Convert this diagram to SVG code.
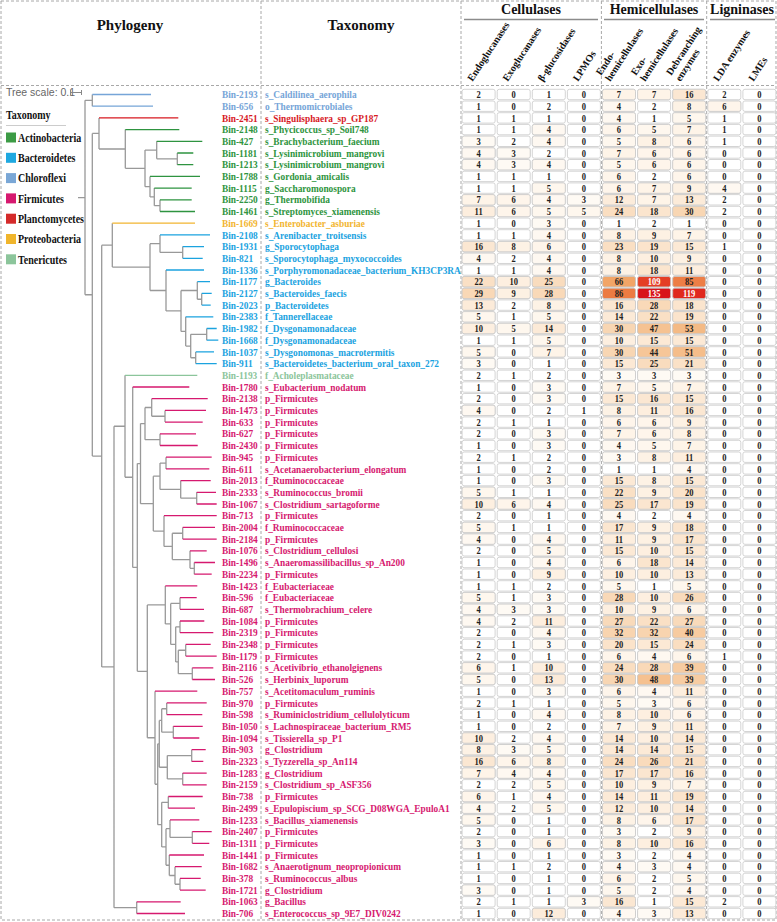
<svg xmlns="http://www.w3.org/2000/svg" xmlns:xlink="http://www.w3.org/1999/xlink" width="777" height="922" viewBox="0 0 777 922">
<style>
.lb{font-family:"Liberation Serif","Times New Roman",serif;font-weight:700;font-size:11px}
.n{font-family:"Liberation Serif","Times New Roman",serif;font-weight:700;font-size:10px;fill:#222;text-anchor:middle}
.n .w{fill:#fff}
.hd{font-family:"Liberation Serif","Times New Roman",serif;font-weight:700;font-size:15px;fill:#111;text-anchor:middle}
.hd2{font-family:"Liberation Serif","Times New Roman",serif;font-weight:700;font-size:14px;fill:#111;text-anchor:middle}
.ct{font-family:"Liberation Serif","Times New Roman",serif;font-weight:700;font-size:10px;fill:#111}
.lg{font-family:"Liberation Serif","Times New Roman",serif;font-weight:700;font-size:12.5px;fill:#111}
.chl{fill:#76a5d8}.pla{fill:#d7191f}.act{fill:#2e9440}.pro{fill:#f2b530}.bac{fill:#1ba3df}.ten{fill:#8cc59b}.fir{fill:#d6196f}
</style>
<defs>
<rect id="c" y="-8.8" width="33" height="10.4" rx="2" stroke="#c9c9c9" stroke-width=".8"/>
<g id="rw" fill="#fff"><use href="#c" x="462.1"/><use href="#c" x="497.2"/><use href="#c" x="532.3"/><use href="#c" x="567.4"/><use href="#c" x="602.5"/><use href="#c" x="637.6"/><use href="#c" x="672.7"/><use href="#c" x="707.8"/><use href="#c" x="742.9"/></g>
</defs>
<rect width="777" height="922" fill="#fff"/>
<g id="frame" fill="none" stroke="#a8a8a8" stroke-width="1" stroke-dasharray="3 2">
<rect x="1" y="1" width="775" height="919"/>
<path d="M1 85.5H776M261 1V920M461 1V920M601.4 1V920M706.7 1V920"/>
</g>
<g id="header">
<text class="hd" x="130" y="30">Phylogeny</text>
<text class="hd" x="361" y="30">Taxonomy</text>
<text class="hd2" x="531" y="14">Cellulases</text>
<text class="hd2" x="654" y="14">Hemicellulases</text>
<text class="hd2" x="742" y="14">Ligninases</text>
<path d="M464 19.5H598M604 19.5H704M710 19.5H775" stroke="#8c8c8c" stroke-width="1.5" fill="none"/>
<g class="ct">
<text transform="translate(472.6,82) rotate(-57)">Endoglucanases</text>
<text transform="translate(507.7,82) rotate(-57)">Exoglucanases</text>
<text transform="translate(542.8,82) rotate(-57)">β-glucosidases</text>
<text transform="translate(577.9,82) rotate(-57)">LPMOs</text>
<text transform="translate(601,76) rotate(-57)"><tspan x="0">Endo-</tspan><tspan x="0" dy="11">hemicellulases</tspan></text>
<text transform="translate(636.1,76) rotate(-57)"><tspan x="0">Exo-</tspan><tspan x="0" dy="11">hemicellulases</tspan></text>
<text transform="translate(671.2,76) rotate(-57)"><tspan x="0">Debranching</tspan><tspan x="0" dy="11">enzymes</tspan></text>
<text transform="translate(718.3,82) rotate(-57)">LDA enzymes</text>
<text transform="translate(753.4,82) rotate(-57)">LMEs</text>
</g>
</g>
<g id="legend">
<text x="6" y="96" font-family="Liberation Sans,Arial,sans-serif" font-size="10.5" fill="#666">Tree scale: 0.1</text>
<path d="M70 92.5H82M70.5 90V95M81.5 90V95" stroke="#888" stroke-width="1" fill="none"/>
<text class="lg" transform="translate(6,119) scale(.8 1)">Taxonomy</text>
<path d="M6 125.5H66" stroke="#ccc" stroke-width="1"/>
<rect x="6" y="132.5" width="10" height="10" fill="#3c9b45"/><text class="lg" transform="translate(18,141.8) scale(.8 1)">Actinobacteria</text>
<rect x="6" y="152.8" width="10" height="10" fill="#1fa8e0"/><text class="lg" transform="translate(18,162.1) scale(.8 1)">Bacteroidetes</text>
<rect x="6" y="173.1" width="10" height="10" fill="#7aa7d6"/><text class="lg" transform="translate(18,182.4) scale(.8 1)">Chloroflexi</text>
<rect x="6" y="193.4" width="10" height="10" fill="#d6196f"/><text class="lg" transform="translate(18,202.7) scale(.8 1)">Firmicutes</text>
<rect x="6" y="213.7" width="10" height="10" fill="#d42a2a"/><text class="lg" transform="translate(18,223) scale(.8 1)">Planctomycetes</text>
<rect x="6" y="234" width="10" height="10" fill="#f0b52c"/><text class="lg" transform="translate(18,243.3) scale(.8 1)">Proteobacteria</text>
<rect x="6" y="254.3" width="10" height="10" fill="#8cc59b"/><text class="lg" transform="translate(18,263.6) scale(.8 1)">Tenericutes</text>
</g>
<g id="connectors" fill="none" stroke-width="1.3">
<path stroke="#999" d="M78 197.55H85M85 100.35V294.75M85 100.35H92.3M92.3 94.5V106.2M85 294.75H92.3M92.3 133.44V456.05M92.3 133.44H99M99 117.9V148.98M99 148.98H125.3M125.3 129.6V168.36M125.3 168.36H145M145 150.08V186.64M145 150.08H156.7M156.7 141.3V158.85M156.7 158.85H177.3M177.3 153V164.7M145 186.64H150M150 176.4V196.88M150 196.88H154.3M154.3 188.1V205.65M154.3 205.65H160M160 199.8V211.5M92.3 456.05H101.7M101.7 245.14V666.96M101.7 245.14H112.3M112.3 223.2V267.08M112.3 267.08H150M150 243.68V290.48M150 243.68H160M160 234.9V252.45M160 252.45H182.7M182.7 246.6V258.3M150 290.48H166M166 270V310.95M166 310.95H181M181 290.48V331.43M181 290.48H197.3M197.3 281.7V299.25M197.3 299.25H201.7M201.7 293.4V305.1M181 331.43H185.7M185.7 316.8V346.05M185.7 346.05H190.7M190.7 334.35V357.75M190.7 334.35H206.7M206.7 328.5V340.2M190.7 357.75H195.7M195.7 351.9V363.6M101.7 666.96H114M114 426.27V907.65M114 426.27H125M125 375.3V477.23M125 477.23H132.7M132.7 387V567.46M132.7 567.46H137.3M137.3 463.6V671.32M137.3 463.6H140.5M140.5 423.56V503.64M140.5 423.56H145M145 407.48V439.65M145 407.48H151.7M151.7 398.7V416.25M151.7 416.25H165M165 410.4V422.1M145 439.65H160M160 433.8V445.5M140.5 503.64H153.3M153.3 476.21V531.06M153.3 476.21H160M160 463.05V489.38M160 463.05H166M166 457.2V468.9M160 489.38H180.7M180.7 480.6V498.15M180.7 498.15H196.7M196.7 492.3V504M153.3 531.06H164M164 515.7V546.41M164 546.41H172.3M172.3 533.25V559.58M172.3 533.25H182.7M182.7 527.4V539.1M172.3 559.58H190M190 550.8V568.35M190 568.35H194.3M194.3 562.5V574.2M137.3 671.32H147.3M147.3 604.91V737.73M147.3 604.91H165.3M165.3 585.9V623.93M165.3 623.93H170.7M170.7 603.45V644.4M170.7 603.45H180M180 597.6V609.3M170.7 644.4H175.7M175.7 626.85V661.95M175.7 626.85H180M180 621V632.7M175.7 661.95H178.3M178.3 650.25V673.65M178.3 650.25H185.7M185.7 644.4V656.1M178.3 673.65H192.3M192.3 667.8V679.5M147.3 737.73H155M155 691.2V784.26M155 784.26H157.7M157.7 743.85V824.66M157.7 743.85H159.3M159.3 720.45V767.25M159.3 720.45H161.7M161.7 708.75V732.15M161.7 708.75H166.7M166.7 702.9V714.6M161.7 732.15H173.3M173.3 726.3V738M159.3 767.25H167.3M167.3 755.55V778.95M167.3 755.55H191.7M191.7 749.7V761.4M167.3 778.95H182.7M182.7 773.1V784.8M157.7 824.66H161.7M161.7 802.35V846.96M161.7 802.35H168.3M168.3 796.5V808.2M161.7 846.96H166M166 828.68V865.24M166 828.68H170M170 819.9V837.45M170 837.45H192.3M192.3 831.6V843.3M166 865.24H169.3M169.3 855V875.48M169.3 875.48H175M175 866.7V884.25M175 884.25H180M180 878.4V890.1M114 907.65H136.7M136.7 901.8V913.5"/>
<path stroke="#76a5d8" d="M92.3 94.5H151M92.3 106.2H153"/>
<path stroke="#d7191f" d="M99 117.9H178.3"/>
<path stroke="#2e9440" d="M125.3 129.6H179.3M156.7 141.3H202.3M177.3 153H193.3M177.3 164.7H193.3M150 176.4H200M154.3 188.1H191.7M160 199.8H191.7M160 211.5H195"/>
<path stroke="#f2b530" d="M112.3 223.2H195"/>
<path stroke="#1ba3df" d="M160 234.9H210M182.7 246.6H204M182.7 258.3H202.7M166 270H204M197.3 281.7H210M201.7 293.4H211.7M201.7 305.1H210.7M185.7 316.8H213.3M206.7 328.5H216.7M206.7 340.2H218.3M195.7 351.9H214M195.7 363.6H216.7"/>
<path stroke="#8cc59b" d="M125 375.3H197.3"/>
<path stroke="#d6196f" d="M132.7 387H189.3M151.7 398.7H207.7M165 410.4H206M165 422.1H202.7M160 433.8H196M160 445.5H197.7M166 457.2H211.7M166 468.9H209.3M180.7 480.6H210.7M196.7 492.3H216M196.7 504H216.7M164 515.7H216.7M182.7 527.4H215M182.7 539.1H216.7M190 550.8H206.7M194.3 562.5H215M194.3 574.2H211.7M165.3 585.9H197.3M180 597.6H196.7M180 609.3H204M180 621H204.3M180 632.7H213.3M185.7 644.4H210.7M185.7 656.1H216.7M192.3 667.8H213.3M192.3 679.5H215M155 691.2H197.3M166.7 702.9H206.7M166.7 714.6H202.3M173.3 726.3H202.7M173.3 738H199.3M191.7 749.7H205.7M191.7 761.4H203.3M182.7 773.1H206.7M182.7 784.8H206.7M168.3 796.5H202.7M168.3 808.2H195M170 819.9H199.3M192.3 831.6H211.7M192.3 843.3H209.3M169.3 855H204M175 866.7H201.7M180 878.4H200.7M180 890.1H205.7M136.7 901.8H180.7M136.7 913.5H185"/>
</g>
<g id="rows">
<g id="bin-2193" transform="translate(0,98.1)"><use href="#rw"/><use href="#c" x="602.5" fill="#fef4e8"/><use href="#c" x="637.6" fill="#fef4e8"/><use href="#c" x="672.7" fill="#fbe7d2"/><g transform="scale(.85 1)"><g class="lb chl"><text x="261.2">Bin-2193</text><text x="311.8">s_Caldilinea_aerophila</text></g><g class="n"><text x="563.1">2</text><text x="604.4">0</text><text x="645.6">1</text><text x="686.9">0</text><text x="728.2">7</text><text x="769.5">7</text><text x="810.8">16</text><text x="852.1">2</text><text x="893.4">0</text></g></g></g>
<g id="bin-656" transform="translate(0,109.8)"><use href="#rw"/><use href="#c" x="602.5" fill="#fef8f1"/><use href="#c" x="672.7" fill="#fdf2e5"/><use href="#c" x="707.8" fill="#fef5eb"/><g transform="scale(.85 1)"><g class="lb chl"><text x="261.2">Bin-656</text><text x="311.8">o_Thermomicrobiales</text></g><g class="n"><text x="563.1">1</text><text x="604.4">0</text><text x="645.6">2</text><text x="686.9">0</text><text x="728.2">4</text><text x="769.5">2</text><text x="810.8">8</text><text x="852.1">6</text><text x="893.4">0</text></g></g></g>
<g id="bin-2451" transform="translate(0,121.5)"><use href="#rw"/><use href="#c" x="602.5" fill="#fef8f1"/><use href="#c" x="672.7" fill="#fef7ee"/><g transform="scale(.85 1)"><g class="lb pla"><text x="261.2">Bin-2451</text><text x="311.8">s_Singulisphaera_sp_GP187</text></g><g class="n"><text x="563.1">1</text><text x="604.4">1</text><text x="645.6">1</text><text x="686.9">0</text><text x="728.2">4</text><text x="769.5">1</text><text x="810.8">5</text><text x="852.1">1</text><text x="893.4">0</text></g></g></g>
<g id="bin-2148" transform="translate(0,133.2)"><use href="#rw"/><use href="#c" x="532.3" fill="#fef8f1"/><use href="#c" x="602.5" fill="#fef5eb"/><use href="#c" x="637.6" fill="#fef7ee"/><use href="#c" x="672.7" fill="#fef4e8"/><g transform="scale(.85 1)"><g class="lb act"><text x="261.2">Bin-2148</text><text x="311.8">s_Phycicoccus_sp_Soil748</text></g><g class="n"><text x="563.1">1</text><text x="604.4">1</text><text x="645.6">4</text><text x="686.9">0</text><text x="728.2">6</text><text x="769.5">5</text><text x="810.8">7</text><text x="852.1">1</text><text x="893.4">0</text></g></g></g>
<g id="bin-427" transform="translate(0,144.9)"><use href="#rw"/><use href="#c" x="462.1" fill="#fefaf4"/><use href="#c" x="532.3" fill="#fef8f1"/><use href="#c" x="602.5" fill="#fef7ee"/><use href="#c" x="637.6" fill="#fdf2e5"/><use href="#c" x="672.7" fill="#fef5eb"/><g transform="scale(.85 1)"><g class="lb act"><text x="261.2">Bin-427</text><text x="311.8">s_Brachybacterium_faecium</text></g><g class="n"><text x="563.1">3</text><text x="604.4">2</text><text x="645.6">4</text><text x="686.9">0</text><text x="728.2">5</text><text x="769.5">8</text><text x="810.8">6</text><text x="852.1">1</text><text x="893.4">0</text></g></g></g>
<g id="bin-1181" transform="translate(0,156.6)"><use href="#rw"/><use href="#c" x="462.1" fill="#fef8f1"/><use href="#c" x="497.2" fill="#fefaf4"/><use href="#c" x="602.5" fill="#fef4e8"/><use href="#c" x="637.6" fill="#fef5eb"/><use href="#c" x="672.7" fill="#fef5eb"/><g transform="scale(.85 1)"><g class="lb act"><text x="261.2">Bin-1181</text><text x="311.8">s_Lysinimicrobium_mangrovi</text></g><g class="n"><text x="563.1">4</text><text x="604.4">3</text><text x="645.6">2</text><text x="686.9">0</text><text x="728.2">7</text><text x="769.5">6</text><text x="810.8">6</text><text x="852.1">0</text><text x="893.4">0</text></g></g></g>
<g id="bin-1213" transform="translate(0,168.3)"><use href="#rw"/><use href="#c" x="462.1" fill="#fef8f1"/><use href="#c" x="497.2" fill="#fefaf4"/><use href="#c" x="532.3" fill="#fef8f1"/><use href="#c" x="602.5" fill="#fef7ee"/><use href="#c" x="637.6" fill="#fef5eb"/><use href="#c" x="672.7" fill="#fef5eb"/><g transform="scale(.85 1)"><g class="lb act"><text x="261.2">Bin-1213</text><text x="311.8">s_Lysinimicrobium_mangrovi</text></g><g class="n"><text x="563.1">4</text><text x="604.4">3</text><text x="645.6">4</text><text x="686.9">0</text><text x="728.2">5</text><text x="769.5">6</text><text x="810.8">6</text><text x="852.1">0</text><text x="893.4">0</text></g></g></g>
<g id="bin-1788" transform="translate(0,180)"><use href="#rw"/><use href="#c" x="602.5" fill="#fef5eb"/><use href="#c" x="672.7" fill="#fef5eb"/><g transform="scale(.85 1)"><g class="lb act"><text x="261.2">Bin-1788</text><text x="311.8">s_Gordonia_amicalis</text></g><g class="n"><text x="563.1">1</text><text x="604.4">1</text><text x="645.6">1</text><text x="686.9">0</text><text x="728.2">6</text><text x="769.5">2</text><text x="810.8">6</text><text x="852.1">0</text><text x="893.4">0</text></g></g></g>
<g id="bin-1115" transform="translate(0,191.7)"><use href="#rw"/><use href="#c" x="532.3" fill="#fef7ee"/><use href="#c" x="602.5" fill="#fef5eb"/><use href="#c" x="637.6" fill="#fef4e8"/><use href="#c" x="672.7" fill="#fdf1e3"/><use href="#c" x="707.8" fill="#fef8f1"/><g transform="scale(.85 1)"><g class="lb act"><text x="261.2">Bin-1115</text><text x="311.8">g_Saccharomonospora</text></g><g class="n"><text x="563.1">1</text><text x="604.4">1</text><text x="645.6">5</text><text x="686.9">0</text><text x="728.2">6</text><text x="769.5">7</text><text x="810.8">9</text><text x="852.1">4</text><text x="893.4">0</text></g></g></g>
<g id="bin-2250" transform="translate(0,203.4)"><use href="#rw"/><use href="#c" x="462.1" fill="#fef4e8"/><use href="#c" x="497.2" fill="#fef5eb"/><use href="#c" x="532.3" fill="#fef8f1"/><use href="#c" x="567.4" fill="#fefaf4"/><use href="#c" x="602.5" fill="#fcecdb"/><use href="#c" x="637.6" fill="#fef4e8"/><use href="#c" x="672.7" fill="#fcebd9"/><g transform="scale(.85 1)"><g class="lb act"><text x="261.2">Bin-2250</text><text x="311.8">g_Thermobifida</text></g><g class="n"><text x="563.1">7</text><text x="604.4">6</text><text x="645.6">4</text><text x="686.9">3</text><text x="728.2">12</text><text x="769.5">7</text><text x="810.8">13</text><text x="852.1">2</text><text x="893.4">0</text></g></g></g>
<g id="bin-1461" transform="translate(0,215.1)"><use href="#rw"/><use href="#c" x="462.1" fill="#fdeede"/><use href="#c" x="497.2" fill="#fef5eb"/><use href="#c" x="532.3" fill="#fef7ee"/><use href="#c" x="567.4" fill="#fef7ee"/><use href="#c" x="602.5" fill="#fadec1"/><use href="#c" x="637.6" fill="#fbe5ce"/><use href="#c" x="672.7" fill="#f8d6b3"/><g transform="scale(.85 1)"><g class="lb act"><text x="261.2">Bin-1461</text><text x="311.8">s_Streptomyces_xiamenensis</text></g><g class="n"><text x="563.1">11</text><text x="604.4">6</text><text x="645.6">5</text><text x="686.9">5</text><text x="728.2">24</text><text x="769.5">18</text><text x="810.8">30</text><text x="852.1">2</text><text x="893.4">0</text></g></g></g>
<g id="bin-1669" transform="translate(0,226.8)"><use href="#rw"/><use href="#c" x="532.3" fill="#fefaf4"/><g transform="scale(.85 1)"><g class="lb pro"><text x="261.2">Bin-1669</text><text x="311.8">s_Enterobacter_asburiae</text></g><g class="n"><text x="563.1">1</text><text x="604.4">0</text><text x="645.6">3</text><text x="686.9">0</text><text x="728.2">1</text><text x="769.5">2</text><text x="810.8">1</text><text x="852.1">0</text><text x="893.4">0</text></g></g></g>
<g id="bin-2108" transform="translate(0,238.5)"><use href="#rw"/><use href="#c" x="532.3" fill="#fef8f1"/><use href="#c" x="602.5" fill="#fdf2e5"/><use href="#c" x="637.6" fill="#fdf1e3"/><use href="#c" x="672.7" fill="#fef4e8"/><g transform="scale(.85 1)"><g class="lb bac"><text x="261.2">Bin-2108</text><text x="311.8">s_Arenibacter_troitsensis</text></g><g class="n"><text x="563.1">1</text><text x="604.4">1</text><text x="645.6">4</text><text x="686.9">0</text><text x="728.2">8</text><text x="769.5">9</text><text x="810.8">7</text><text x="852.1">0</text><text x="893.4">0</text></g></g></g>
<g id="bin-1931" transform="translate(0,250.2)"><use href="#rw"/><use href="#c" x="462.1" fill="#fbe7d2"/><use href="#c" x="497.2" fill="#fdf2e5"/><use href="#c" x="532.3" fill="#fef5eb"/><use href="#c" x="602.5" fill="#fadfc3"/><use href="#c" x="637.6" fill="#fbe4cc"/><use href="#c" x="672.7" fill="#fce9d5"/><g transform="scale(.85 1)"><g class="lb bac"><text x="261.2">Bin-1931</text><text x="311.8">g_Sporocytophaga</text></g><g class="n"><text x="563.1">16</text><text x="604.4">8</text><text x="645.6">6</text><text x="686.9">0</text><text x="728.2">23</text><text x="769.5">19</text><text x="810.8">15</text><text x="852.1">1</text><text x="893.4">0</text></g></g></g>
<g id="bin-821" transform="translate(0,261.9)"><use href="#rw"/><use href="#c" x="462.1" fill="#fef8f1"/><use href="#c" x="532.3" fill="#fef8f1"/><use href="#c" x="602.5" fill="#fdf2e5"/><use href="#c" x="637.6" fill="#fdefe0"/><use href="#c" x="672.7" fill="#fdf1e3"/><g transform="scale(.85 1)"><g class="lb bac"><text x="261.2">Bin-821</text><text x="311.8">s_Sporocytophaga_myxococcoides</text></g><g class="n"><text x="563.1">4</text><text x="604.4">2</text><text x="645.6">4</text><text x="686.9">0</text><text x="728.2">8</text><text x="769.5">10</text><text x="810.8">9</text><text x="852.1">0</text><text x="893.4">0</text></g></g></g>
<g id="bin-1336" transform="translate(0,273.6)"><use href="#rw"/><use href="#c" x="532.3" fill="#fef8f1"/><use href="#c" x="602.5" fill="#fdf2e5"/><use href="#c" x="637.6" fill="#fbe5ce"/><use href="#c" x="672.7" fill="#fdeede"/><g transform="scale(.85 1)"><g class="lb bac"><text x="261.2">Bin-1336</text><text x="311.8">s_Porphyromonadaceae_bacterium_KH3CP3RA</text></g><g class="n"><text x="563.1">1</text><text x="604.4">1</text><text x="645.6">4</text><text x="686.9">0</text><text x="728.2">8</text><text x="769.5">18</text><text x="810.8">11</text><text x="852.1">0</text><text x="893.4">0</text></g></g></g>
<g id="bin-1177" transform="translate(0,285.3)"><use href="#rw"/><use href="#c" x="462.1" fill="#fae0c5"/><use href="#c" x="497.2" fill="#fdefe0"/><use href="#c" x="532.3" fill="#f9dcbe"/><use href="#c" x="602.5" fill="#f2a567"/><use href="#c" x="637.6" fill="#e43e26"/><use href="#c" x="672.7" fill="#ed7e46"/><g transform="scale(.85 1)"><g class="lb bac"><text x="261.2">Bin-1177</text><text x="311.8">g_Bacteroides</text></g><g class="n"><text x="563.1">22</text><text x="604.4">10</text><text x="645.6">25</text><text x="686.9">0</text><text x="728.2">66</text><text x="769.5" class="w">109</text><text x="810.8">85</text><text x="852.1">0</text><text x="893.4">0</text></g></g></g>
<g id="bin-2127" transform="translate(0,297)"><use href="#rw"/><use href="#c" x="462.1" fill="#f9d8b6"/><use href="#c" x="497.2" fill="#fdf1e3"/><use href="#c" x="532.3" fill="#f9d9b8"/><use href="#c" x="602.5" fill="#ec7b43"/><use href="#c" x="637.6" fill="#d8121a"/><use href="#c" x="672.7" fill="#e0291e"/><g transform="scale(.85 1)"><g class="lb bac"><text x="261.2">Bin-2127</text><text x="311.8">s_Bacteroides_faecis</text></g><g class="n"><text x="563.1">29</text><text x="604.4">9</text><text x="645.6">28</text><text x="686.9">0</text><text x="728.2">86</text><text x="769.5" class="w">135</text><text x="810.8" class="w">119</text><text x="852.1">0</text><text x="893.4">0</text></g></g></g>
<g id="bin-2023" transform="translate(0,308.7)"><use href="#rw"/><use href="#c" x="462.1" fill="#fcebd9"/><use href="#c" x="532.3" fill="#fdf2e5"/><use href="#c" x="602.5" fill="#fbe7d2"/><use href="#c" x="637.6" fill="#f9d9b8"/><use href="#c" x="672.7" fill="#fbe5ce"/><g transform="scale(.85 1)"><g class="lb bac"><text x="261.2">Bin-2023</text><text x="311.8">p_Bacteroidetes</text></g><g class="n"><text x="563.1">13</text><text x="604.4">2</text><text x="645.6">8</text><text x="686.9">0</text><text x="728.2">16</text><text x="769.5">28</text><text x="810.8">18</text><text x="852.1">0</text><text x="893.4">0</text></g></g></g>
<g id="bin-2383" transform="translate(0,320.4)"><use href="#rw"/><use href="#c" x="462.1" fill="#fef7ee"/><use href="#c" x="532.3" fill="#fef7ee"/><use href="#c" x="602.5" fill="#fcead7"/><use href="#c" x="637.6" fill="#fae0c5"/><use href="#c" x="672.7" fill="#fbe4cc"/><g transform="scale(.85 1)"><g class="lb bac"><text x="261.2">Bin-2383</text><text x="311.8">f_Tannerellaceae</text></g><g class="n"><text x="563.1">5</text><text x="604.4">1</text><text x="645.6">5</text><text x="686.9">0</text><text x="728.2">14</text><text x="769.5">22</text><text x="810.8">19</text><text x="852.1">0</text><text x="893.4">0</text></g></g></g>
<g id="bin-1982" transform="translate(0,332.1)"><use href="#rw"/><use href="#c" x="462.1" fill="#fdefe0"/><use href="#c" x="497.2" fill="#fef7ee"/><use href="#c" x="532.3" fill="#fcead7"/><use href="#c" x="602.5" fill="#f8d6b3"/><use href="#c" x="637.6" fill="#f5c292"/><use href="#c" x="672.7" fill="#f4ba85"/><g transform="scale(.85 1)"><g class="lb bac"><text x="261.2">Bin-1982</text><text x="311.8">f_Dysgonamonadaceae</text></g><g class="n"><text x="563.1">10</text><text x="604.4">5</text><text x="645.6">14</text><text x="686.9">0</text><text x="728.2">30</text><text x="769.5">47</text><text x="810.8">53</text><text x="852.1">0</text><text x="893.4">0</text></g></g></g>
<g id="bin-1668" transform="translate(0,343.8)"><use href="#rw"/><use href="#c" x="532.3" fill="#fef7ee"/><use href="#c" x="602.5" fill="#fdefe0"/><use href="#c" x="637.6" fill="#fce9d5"/><use href="#c" x="672.7" fill="#fce9d5"/><g transform="scale(.85 1)"><g class="lb bac"><text x="261.2">Bin-1668</text><text x="311.8">f_Dysgonamonadaceae</text></g><g class="n"><text x="563.1">1</text><text x="604.4">1</text><text x="645.6">5</text><text x="686.9">0</text><text x="728.2">10</text><text x="769.5">15</text><text x="810.8">15</text><text x="852.1">0</text><text x="893.4">0</text></g></g></g>
<g id="bin-1037" transform="translate(0,355.5)"><use href="#rw"/><use href="#c" x="462.1" fill="#fef7ee"/><use href="#c" x="532.3" fill="#fef4e8"/><use href="#c" x="602.5" fill="#f8d6b3"/><use href="#c" x="637.6" fill="#f6c698"/><use href="#c" x="672.7" fill="#f5bd8a"/><g transform="scale(.85 1)"><g class="lb bac"><text x="261.2">Bin-1037</text><text x="311.8">s_Dysgonomonas_macrotermitis</text></g><g class="n"><text x="563.1">5</text><text x="604.4">0</text><text x="645.6">7</text><text x="686.9">0</text><text x="728.2">30</text><text x="769.5">44</text><text x="810.8">51</text><text x="852.1">0</text><text x="893.4">0</text></g></g></g>
<g id="bin-911" transform="translate(0,367.2)"><use href="#rw"/><use href="#c" x="462.1" fill="#fefaf4"/><use href="#c" x="602.5" fill="#fce9d5"/><use href="#c" x="637.6" fill="#f9dcbe"/><use href="#c" x="672.7" fill="#fae1c7"/><g transform="scale(.85 1)"><g class="lb bac"><text x="261.2">Bin-911</text><text x="311.8">s_Bacteroidetes_bacterium_oral_taxon_272</text></g><g class="n"><text x="563.1">3</text><text x="604.4">0</text><text x="645.6">1</text><text x="686.9">0</text><text x="728.2">15</text><text x="769.5">25</text><text x="810.8">21</text><text x="852.1">0</text><text x="893.4">0</text></g></g></g>
<g id="bin-1193" transform="translate(0,378.9)"><use href="#rw"/><use href="#c" x="602.5" fill="#fefaf4"/><use href="#c" x="637.6" fill="#fefaf4"/><use href="#c" x="672.7" fill="#fefaf4"/><g transform="scale(.85 1)"><g class="lb ten"><text x="261.2">Bin-1193</text><text x="311.8">f_Acholeplasmataceae</text></g><g class="n"><text x="563.1">2</text><text x="604.4">1</text><text x="645.6">2</text><text x="686.9">0</text><text x="728.2">3</text><text x="769.5">3</text><text x="810.8">3</text><text x="852.1">0</text><text x="893.4">0</text></g></g></g>
<g id="bin-1780" transform="translate(0,390.6)"><use href="#rw"/><use href="#c" x="532.3" fill="#fefaf4"/><use href="#c" x="602.5" fill="#fef4e8"/><use href="#c" x="637.6" fill="#fef7ee"/><use href="#c" x="672.7" fill="#fef4e8"/><g transform="scale(.85 1)"><g class="lb fir"><text x="261.2">Bin-1780</text><text x="311.8">s_Eubacterium_nodatum</text></g><g class="n"><text x="563.1">1</text><text x="604.4">0</text><text x="645.6">3</text><text x="686.9">0</text><text x="728.2">7</text><text x="769.5">5</text><text x="810.8">7</text><text x="852.1">0</text><text x="893.4">0</text></g></g></g>
<g id="bin-2138" transform="translate(0,402.3)"><use href="#rw"/><use href="#c" x="532.3" fill="#fefaf4"/><use href="#c" x="602.5" fill="#fce9d5"/><use href="#c" x="637.6" fill="#fbe7d2"/><use href="#c" x="672.7" fill="#fce9d5"/><g transform="scale(.85 1)"><g class="lb fir"><text x="261.2">Bin-2138</text><text x="311.8">p_Firmicutes</text></g><g class="n"><text x="563.1">2</text><text x="604.4">0</text><text x="645.6">3</text><text x="686.9">0</text><text x="728.2">15</text><text x="769.5">16</text><text x="810.8">15</text><text x="852.1">0</text><text x="893.4">0</text></g></g></g>
<g id="bin-1473" transform="translate(0,414)"><use href="#rw"/><use href="#c" x="462.1" fill="#fef8f1"/><use href="#c" x="602.5" fill="#fdf2e5"/><use href="#c" x="637.6" fill="#fdeede"/><use href="#c" x="672.7" fill="#fbe7d2"/><g transform="scale(.85 1)"><g class="lb fir"><text x="261.2">Bin-1473</text><text x="311.8">p_Firmicutes</text></g><g class="n"><text x="563.1">4</text><text x="604.4">0</text><text x="645.6">2</text><text x="686.9">1</text><text x="728.2">8</text><text x="769.5">11</text><text x="810.8">16</text><text x="852.1">0</text><text x="893.4">0</text></g></g></g>
<g id="bin-633" transform="translate(0,425.7)"><use href="#rw"/><use href="#c" x="602.5" fill="#fef5eb"/><use href="#c" x="637.6" fill="#fef5eb"/><use href="#c" x="672.7" fill="#fdf1e3"/><g transform="scale(.85 1)"><g class="lb fir"><text x="261.2">Bin-633</text><text x="311.8">p_Firmicutes</text></g><g class="n"><text x="563.1">2</text><text x="604.4">1</text><text x="645.6">1</text><text x="686.9">0</text><text x="728.2">6</text><text x="769.5">6</text><text x="810.8">9</text><text x="852.1">0</text><text x="893.4">0</text></g></g></g>
<g id="bin-627" transform="translate(0,437.4)"><use href="#rw"/><use href="#c" x="532.3" fill="#fefaf4"/><use href="#c" x="602.5" fill="#fef4e8"/><use href="#c" x="637.6" fill="#fef5eb"/><use href="#c" x="672.7" fill="#fdf2e5"/><g transform="scale(.85 1)"><g class="lb fir"><text x="261.2">Bin-627</text><text x="311.8">p_Firmicutes</text></g><g class="n"><text x="563.1">2</text><text x="604.4">0</text><text x="645.6">3</text><text x="686.9">0</text><text x="728.2">7</text><text x="769.5">6</text><text x="810.8">8</text><text x="852.1">0</text><text x="893.4">0</text></g></g></g>
<g id="bin-2430" transform="translate(0,449.1)"><use href="#rw"/><use href="#c" x="532.3" fill="#fefaf4"/><use href="#c" x="602.5" fill="#fef8f1"/><use href="#c" x="637.6" fill="#fef7ee"/><use href="#c" x="672.7" fill="#fef4e8"/><g transform="scale(.85 1)"><g class="lb fir"><text x="261.2">Bin-2430</text><text x="311.8">p_Firmicutes</text></g><g class="n"><text x="563.1">1</text><text x="604.4">0</text><text x="645.6">3</text><text x="686.9">0</text><text x="728.2">4</text><text x="769.5">5</text><text x="810.8">7</text><text x="852.1">0</text><text x="893.4">0</text></g></g></g>
<g id="bin-945" transform="translate(0,460.8)"><use href="#rw"/><use href="#c" x="602.5" fill="#fefaf4"/><use href="#c" x="637.6" fill="#fdf2e5"/><use href="#c" x="672.7" fill="#fdeede"/><g transform="scale(.85 1)"><g class="lb fir"><text x="261.2">Bin-945</text><text x="311.8">p_Firmicutes</text></g><g class="n"><text x="563.1">2</text><text x="604.4">1</text><text x="645.6">2</text><text x="686.9">0</text><text x="728.2">3</text><text x="769.5">8</text><text x="810.8">11</text><text x="852.1">0</text><text x="893.4">0</text></g></g></g>
<g id="bin-611" transform="translate(0,472.5)"><use href="#rw"/><use href="#c" x="672.7" fill="#fef8f1"/><g transform="scale(.85 1)"><g class="lb fir"><text x="261.2">Bin-611</text><text x="311.8">s_Acetanaerobacterium_elongatum</text></g><g class="n"><text x="563.1">1</text><text x="604.4">0</text><text x="645.6">2</text><text x="686.9">0</text><text x="728.2">1</text><text x="769.5">1</text><text x="810.8">4</text><text x="852.1">0</text><text x="893.4">0</text></g></g></g>
<g id="bin-2013" transform="translate(0,484.2)"><use href="#rw"/><use href="#c" x="532.3" fill="#fefaf4"/><use href="#c" x="602.5" fill="#fce9d5"/><use href="#c" x="637.6" fill="#fdf2e5"/><use href="#c" x="672.7" fill="#fce9d5"/><g transform="scale(.85 1)"><g class="lb fir"><text x="261.2">Bin-2013</text><text x="311.8">f_Ruminococcaceae</text></g><g class="n"><text x="563.1">1</text><text x="604.4">0</text><text x="645.6">3</text><text x="686.9">0</text><text x="728.2">15</text><text x="769.5">8</text><text x="810.8">15</text><text x="852.1">0</text><text x="893.4">0</text></g></g></g>
<g id="bin-2333" transform="translate(0,495.9)"><use href="#rw"/><use href="#c" x="462.1" fill="#fef7ee"/><use href="#c" x="602.5" fill="#fae0c5"/><use href="#c" x="637.6" fill="#fdf1e3"/><use href="#c" x="672.7" fill="#fbe3ca"/><g transform="scale(.85 1)"><g class="lb fir"><text x="261.2">Bin-2333</text><text x="311.8">s_Ruminococcus_bromii</text></g><g class="n"><text x="563.1">5</text><text x="604.4">1</text><text x="645.6">1</text><text x="686.9">0</text><text x="728.2">22</text><text x="769.5">9</text><text x="810.8">20</text><text x="852.1">0</text><text x="893.4">0</text></g></g></g>
<g id="bin-1067" transform="translate(0,507.6)"><use href="#rw"/><use href="#c" x="462.1" fill="#fdefe0"/><use href="#c" x="497.2" fill="#fef5eb"/><use href="#c" x="532.3" fill="#fef8f1"/><use href="#c" x="602.5" fill="#f9dcbe"/><use href="#c" x="637.6" fill="#fbe6d0"/><use href="#c" x="672.7" fill="#fbe4cc"/><g transform="scale(.85 1)"><g class="lb fir"><text x="261.2">Bin-1067</text><text x="311.8">s_Clostridium_sartagoforme</text></g><g class="n"><text x="563.1">10</text><text x="604.4">6</text><text x="645.6">4</text><text x="686.9">0</text><text x="728.2">25</text><text x="769.5">17</text><text x="810.8">19</text><text x="852.1">0</text><text x="893.4">0</text></g></g></g>
<g id="bin-713" transform="translate(0,519.3)"><use href="#rw"/><use href="#c" x="602.5" fill="#fef8f1"/><use href="#c" x="672.7" fill="#fef8f1"/><g transform="scale(.85 1)"><g class="lb fir"><text x="261.2">Bin-713</text><text x="311.8">p_Firmicutes</text></g><g class="n"><text x="563.1">2</text><text x="604.4">0</text><text x="645.6">1</text><text x="686.9">0</text><text x="728.2">4</text><text x="769.5">2</text><text x="810.8">4</text><text x="852.1">0</text><text x="893.4">0</text></g></g></g>
<g id="bin-2004" transform="translate(0,531)"><use href="#rw"/><use href="#c" x="462.1" fill="#fef7ee"/><use href="#c" x="602.5" fill="#fbe6d0"/><use href="#c" x="637.6" fill="#fdf1e3"/><use href="#c" x="672.7" fill="#fbe5ce"/><g transform="scale(.85 1)"><g class="lb fir"><text x="261.2">Bin-2004</text><text x="311.8">f_Ruminococcaceae</text></g><g class="n"><text x="563.1">5</text><text x="604.4">1</text><text x="645.6">1</text><text x="686.9">0</text><text x="728.2">17</text><text x="769.5">9</text><text x="810.8">18</text><text x="852.1">0</text><text x="893.4">0</text></g></g></g>
<g id="bin-2184" transform="translate(0,542.7)"><use href="#rw"/><use href="#c" x="462.1" fill="#fef8f1"/><use href="#c" x="532.3" fill="#fef8f1"/><use href="#c" x="602.5" fill="#fdeede"/><use href="#c" x="637.6" fill="#fdf1e3"/><use href="#c" x="672.7" fill="#fbe6d0"/><g transform="scale(.85 1)"><g class="lb fir"><text x="261.2">Bin-2184</text><text x="311.8">p_Firmicutes</text></g><g class="n"><text x="563.1">4</text><text x="604.4">0</text><text x="645.6">4</text><text x="686.9">0</text><text x="728.2">11</text><text x="769.5">9</text><text x="810.8">17</text><text x="852.1">0</text><text x="893.4">0</text></g></g></g>
<g id="bin-1076" transform="translate(0,554.4)"><use href="#rw"/><use href="#c" x="532.3" fill="#fef7ee"/><use href="#c" x="602.5" fill="#fce9d5"/><use href="#c" x="637.6" fill="#fdefe0"/><use href="#c" x="672.7" fill="#fce9d5"/><g transform="scale(.85 1)"><g class="lb fir"><text x="261.2">Bin-1076</text><text x="311.8">s_Clostridium_cellulosi</text></g><g class="n"><text x="563.1">2</text><text x="604.4">0</text><text x="645.6">5</text><text x="686.9">0</text><text x="728.2">15</text><text x="769.5">10</text><text x="810.8">15</text><text x="852.1">0</text><text x="893.4">0</text></g></g></g>
<g id="bin-1496" transform="translate(0,566.1)"><use href="#rw"/><use href="#c" x="532.3" fill="#fef8f1"/><use href="#c" x="602.5" fill="#fef5eb"/><use href="#c" x="637.6" fill="#fbe5ce"/><use href="#c" x="672.7" fill="#fcead7"/><g transform="scale(.85 1)"><g class="lb fir"><text x="261.2">Bin-1496</text><text x="311.8">s_Anaeromassilibacillus_sp_An200</text></g><g class="n"><text x="563.1">1</text><text x="604.4">0</text><text x="645.6">4</text><text x="686.9">0</text><text x="728.2">6</text><text x="769.5">18</text><text x="810.8">14</text><text x="852.1">0</text><text x="893.4">0</text></g></g></g>
<g id="bin-2234" transform="translate(0,577.8)"><use href="#rw"/><use href="#c" x="532.3" fill="#fdf1e3"/><use href="#c" x="602.5" fill="#fdefe0"/><use href="#c" x="637.6" fill="#fdefe0"/><use href="#c" x="672.7" fill="#fcebd9"/><g transform="scale(.85 1)"><g class="lb fir"><text x="261.2">Bin-2234</text><text x="311.8">p_Firmicutes</text></g><g class="n"><text x="563.1">1</text><text x="604.4">0</text><text x="645.6">9</text><text x="686.9">0</text><text x="728.2">10</text><text x="769.5">10</text><text x="810.8">13</text><text x="852.1">0</text><text x="893.4">0</text></g></g></g>
<g id="bin-1423" transform="translate(0,589.5)"><use href="#rw"/><use href="#c" x="602.5" fill="#fef7ee"/><use href="#c" x="672.7" fill="#fef7ee"/><g transform="scale(.85 1)"><g class="lb fir"><text x="261.2">Bin-1423</text><text x="311.8">f_Eubacteriaceae</text></g><g class="n"><text x="563.1">1</text><text x="604.4">1</text><text x="645.6">2</text><text x="686.9">0</text><text x="728.2">5</text><text x="769.5">1</text><text x="810.8">5</text><text x="852.1">0</text><text x="893.4">0</text></g></g></g>
<g id="bin-596" transform="translate(0,601.2)"><use href="#rw"/><use href="#c" x="462.1" fill="#fef7ee"/><use href="#c" x="532.3" fill="#fefaf4"/><use href="#c" x="602.5" fill="#f9d9b8"/><use href="#c" x="637.6" fill="#fdefe0"/><use href="#c" x="672.7" fill="#f9dbbc"/><g transform="scale(.85 1)"><g class="lb fir"><text x="261.2">Bin-596</text><text x="311.8">f_Eubacteriaceae</text></g><g class="n"><text x="563.1">5</text><text x="604.4">1</text><text x="645.6">3</text><text x="686.9">0</text><text x="728.2">28</text><text x="769.5">10</text><text x="810.8">26</text><text x="852.1">0</text><text x="893.4">0</text></g></g></g>
<g id="bin-687" transform="translate(0,612.9)"><use href="#rw"/><use href="#c" x="462.1" fill="#fef8f1"/><use href="#c" x="497.2" fill="#fefaf4"/><use href="#c" x="532.3" fill="#fefaf4"/><use href="#c" x="602.5" fill="#fdefe0"/><use href="#c" x="637.6" fill="#fdf1e3"/><use href="#c" x="672.7" fill="#fef5eb"/><g transform="scale(.85 1)"><g class="lb fir"><text x="261.2">Bin-687</text><text x="311.8">s_Thermobrachium_celere</text></g><g class="n"><text x="563.1">4</text><text x="604.4">3</text><text x="645.6">3</text><text x="686.9">0</text><text x="728.2">10</text><text x="769.5">9</text><text x="810.8">6</text><text x="852.1">0</text><text x="893.4">0</text></g></g></g>
<g id="bin-1084" transform="translate(0,624.6)"><use href="#rw"/><use href="#c" x="462.1" fill="#fef8f1"/><use href="#c" x="532.3" fill="#fdeede"/><use href="#c" x="602.5" fill="#f9daba"/><use href="#c" x="637.6" fill="#fae0c5"/><use href="#c" x="672.7" fill="#f9daba"/><g transform="scale(.85 1)"><g class="lb fir"><text x="261.2">Bin-1084</text><text x="311.8">p_Firmicutes</text></g><g class="n"><text x="563.1">4</text><text x="604.4">2</text><text x="645.6">11</text><text x="686.9">0</text><text x="728.2">27</text><text x="769.5">22</text><text x="810.8">27</text><text x="852.1">0</text><text x="893.4">0</text></g></g></g>
<g id="bin-2319" transform="translate(0,636.3)"><use href="#rw"/><use href="#c" x="532.3" fill="#fef8f1"/><use href="#c" x="602.5" fill="#f8d4af"/><use href="#c" x="637.6" fill="#f8d4af"/><use href="#c" x="672.7" fill="#f7cba0"/><g transform="scale(.85 1)"><g class="lb fir"><text x="261.2">Bin-2319</text><text x="311.8">p_Firmicutes</text></g><g class="n"><text x="563.1">2</text><text x="604.4">0</text><text x="645.6">4</text><text x="686.9">0</text><text x="728.2">32</text><text x="769.5">32</text><text x="810.8">40</text><text x="852.1">0</text><text x="893.4">0</text></g></g></g>
<g id="bin-2348" transform="translate(0,648)"><use href="#rw"/><use href="#c" x="532.3" fill="#fefaf4"/><use href="#c" x="602.5" fill="#fbe3ca"/><use href="#c" x="637.6" fill="#fce9d5"/><use href="#c" x="672.7" fill="#fadec1"/><g transform="scale(.85 1)"><g class="lb fir"><text x="261.2">Bin-2348</text><text x="311.8">p_Firmicutes</text></g><g class="n"><text x="563.1">2</text><text x="604.4">1</text><text x="645.6">3</text><text x="686.9">0</text><text x="728.2">20</text><text x="769.5">15</text><text x="810.8">24</text><text x="852.1">0</text><text x="893.4">0</text></g></g></g>
<g id="bin-1179" transform="translate(0,659.7)"><use href="#rw"/><use href="#c" x="602.5" fill="#fef5eb"/><use href="#c" x="637.6" fill="#fef8f1"/><use href="#c" x="672.7" fill="#fef5eb"/><g transform="scale(.85 1)"><g class="lb fir"><text x="261.2">Bin-1179</text><text x="311.8">p_Firmicutes</text></g><g class="n"><text x="563.1">2</text><text x="604.4">0</text><text x="645.6">1</text><text x="686.9">0</text><text x="728.2">6</text><text x="769.5">4</text><text x="810.8">6</text><text x="852.1">1</text><text x="893.4">0</text></g></g></g>
<g id="bin-2116" transform="translate(0,671.4)"><use href="#rw"/><use href="#c" x="462.1" fill="#fef5eb"/><use href="#c" x="532.3" fill="#fdefe0"/><use href="#c" x="602.5" fill="#fadec1"/><use href="#c" x="637.6" fill="#f9d9b8"/><use href="#c" x="672.7" fill="#f7cca2"/><g transform="scale(.85 1)"><g class="lb fir"><text x="261.2">Bin-2116</text><text x="311.8">s_Acetivibrio_ethanolgignens</text></g><g class="n"><text x="563.1">6</text><text x="604.4">1</text><text x="645.6">10</text><text x="686.9">0</text><text x="728.2">24</text><text x="769.5">28</text><text x="810.8">39</text><text x="852.1">0</text><text x="893.4">0</text></g></g></g>
<g id="bin-526" transform="translate(0,683.1)"><use href="#rw"/><use href="#c" x="462.1" fill="#fef7ee"/><use href="#c" x="532.3" fill="#fcebd9"/><use href="#c" x="602.5" fill="#f8d6b3"/><use href="#c" x="637.6" fill="#f5c190"/><use href="#c" x="672.7" fill="#f7cca2"/><g transform="scale(.85 1)"><g class="lb fir"><text x="261.2">Bin-526</text><text x="311.8">s_Herbinix_luporum</text></g><g class="n"><text x="563.1">5</text><text x="604.4">0</text><text x="645.6">13</text><text x="686.9">0</text><text x="728.2">30</text><text x="769.5">48</text><text x="810.8">39</text><text x="852.1">0</text><text x="893.4">0</text></g></g></g>
<g id="bin-757" transform="translate(0,694.8)"><use href="#rw"/><use href="#c" x="532.3" fill="#fefaf4"/><use href="#c" x="602.5" fill="#fef5eb"/><use href="#c" x="637.6" fill="#fef8f1"/><use href="#c" x="672.7" fill="#fdeede"/><g transform="scale(.85 1)"><g class="lb fir"><text x="261.2">Bin-757</text><text x="311.8">s_Acetitomaculum_ruminis</text></g><g class="n"><text x="563.1">1</text><text x="604.4">0</text><text x="645.6">3</text><text x="686.9">0</text><text x="728.2">6</text><text x="769.5">4</text><text x="810.8">11</text><text x="852.1">0</text><text x="893.4">0</text></g></g></g>
<g id="bin-970" transform="translate(0,706.5)"><use href="#rw"/><use href="#c" x="602.5" fill="#fef7ee"/><use href="#c" x="637.6" fill="#fefaf4"/><use href="#c" x="672.7" fill="#fef5eb"/><g transform="scale(.85 1)"><g class="lb fir"><text x="261.2">Bin-970</text><text x="311.8">p_Firmicutes</text></g><g class="n"><text x="563.1">2</text><text x="604.4">1</text><text x="645.6">1</text><text x="686.9">0</text><text x="728.2">5</text><text x="769.5">3</text><text x="810.8">6</text><text x="852.1">0</text><text x="893.4">0</text></g></g></g>
<g id="bin-598" transform="translate(0,718.2)"><use href="#rw"/><use href="#c" x="532.3" fill="#fef8f1"/><use href="#c" x="602.5" fill="#fdf2e5"/><use href="#c" x="637.6" fill="#fdefe0"/><use href="#c" x="672.7" fill="#fef5eb"/><g transform="scale(.85 1)"><g class="lb fir"><text x="261.2">Bin-598</text><text x="311.8">s_Ruminiclostridium_cellulolyticum</text></g><g class="n"><text x="563.1">1</text><text x="604.4">0</text><text x="645.6">4</text><text x="686.9">0</text><text x="728.2">8</text><text x="769.5">10</text><text x="810.8">6</text><text x="852.1">0</text><text x="893.4">0</text></g></g></g>
<g id="bin-1050" transform="translate(0,729.9)"><use href="#rw"/><use href="#c" x="602.5" fill="#fef4e8"/><use href="#c" x="637.6" fill="#fdf1e3"/><use href="#c" x="672.7" fill="#fdeede"/><g transform="scale(.85 1)"><g class="lb fir"><text x="261.2">Bin-1050</text><text x="311.8">s_Lachnospiraceae_bacterium_RM5</text></g><g class="n"><text x="563.1">1</text><text x="604.4">0</text><text x="645.6">2</text><text x="686.9">0</text><text x="728.2">7</text><text x="769.5">9</text><text x="810.8">11</text><text x="852.1">0</text><text x="893.4">0</text></g></g></g>
<g id="bin-1094" transform="translate(0,741.6)"><use href="#rw"/><use href="#c" x="462.1" fill="#fdefe0"/><use href="#c" x="532.3" fill="#fef8f1"/><use href="#c" x="602.5" fill="#fcead7"/><use href="#c" x="637.6" fill="#fdefe0"/><use href="#c" x="672.7" fill="#fcead7"/><g transform="scale(.85 1)"><g class="lb fir"><text x="261.2">Bin-1094</text><text x="311.8">s_Tissierella_sp_P1</text></g><g class="n"><text x="563.1">10</text><text x="604.4">2</text><text x="645.6">4</text><text x="686.9">0</text><text x="728.2">14</text><text x="769.5">10</text><text x="810.8">14</text><text x="852.1">0</text><text x="893.4">0</text></g></g></g>
<g id="bin-903" transform="translate(0,753.3)"><use href="#rw"/><use href="#c" x="462.1" fill="#fdf2e5"/><use href="#c" x="497.2" fill="#fefaf4"/><use href="#c" x="532.3" fill="#fef7ee"/><use href="#c" x="602.5" fill="#fcead7"/><use href="#c" x="637.6" fill="#fcead7"/><use href="#c" x="672.7" fill="#fce9d5"/><g transform="scale(.85 1)"><g class="lb fir"><text x="261.2">Bin-903</text><text x="311.8">g_Clostridium</text></g><g class="n"><text x="563.1">8</text><text x="604.4">3</text><text x="645.6">5</text><text x="686.9">0</text><text x="728.2">14</text><text x="769.5">14</text><text x="810.8">15</text><text x="852.1">0</text><text x="893.4">0</text></g></g></g>
<g id="bin-2323" transform="translate(0,765)"><use href="#rw"/><use href="#c" x="462.1" fill="#fbe7d2"/><use href="#c" x="497.2" fill="#fef5eb"/><use href="#c" x="532.3" fill="#fdf2e5"/><use href="#c" x="602.5" fill="#fadec1"/><use href="#c" x="637.6" fill="#f9dbbc"/><use href="#c" x="672.7" fill="#fae1c7"/><g transform="scale(.85 1)"><g class="lb fir"><text x="261.2">Bin-2323</text><text x="311.8">s_Tyzzerella_sp_An114</text></g><g class="n"><text x="563.1">16</text><text x="604.4">6</text><text x="645.6">8</text><text x="686.9">0</text><text x="728.2">24</text><text x="769.5">26</text><text x="810.8">21</text><text x="852.1">0</text><text x="893.4">0</text></g></g></g>
<g id="bin-1283" transform="translate(0,776.7)"><use href="#rw"/><use href="#c" x="462.1" fill="#fef4e8"/><use href="#c" x="497.2" fill="#fef8f1"/><use href="#c" x="532.3" fill="#fef8f1"/><use href="#c" x="602.5" fill="#fbe6d0"/><use href="#c" x="637.6" fill="#fbe6d0"/><use href="#c" x="672.7" fill="#fbe7d2"/><g transform="scale(.85 1)"><g class="lb fir"><text x="261.2">Bin-1283</text><text x="311.8">g_Clostridium</text></g><g class="n"><text x="563.1">7</text><text x="604.4">4</text><text x="645.6">4</text><text x="686.9">0</text><text x="728.2">17</text><text x="769.5">17</text><text x="810.8">16</text><text x="852.1">0</text><text x="893.4">0</text></g></g></g>
<g id="bin-2159" transform="translate(0,788.4)"><use href="#rw"/><use href="#c" x="532.3" fill="#fef7ee"/><use href="#c" x="602.5" fill="#fdefe0"/><use href="#c" x="637.6" fill="#fdf1e3"/><use href="#c" x="672.7" fill="#fef4e8"/><g transform="scale(.85 1)"><g class="lb fir"><text x="261.2">Bin-2159</text><text x="311.8">s_Clostridium_sp_ASF356</text></g><g class="n"><text x="563.1">2</text><text x="604.4">2</text><text x="645.6">5</text><text x="686.9">0</text><text x="728.2">10</text><text x="769.5">9</text><text x="810.8">7</text><text x="852.1">0</text><text x="893.4">0</text></g></g></g>
<g id="bin-738" transform="translate(0,800.1)"><use href="#rw"/><use href="#c" x="462.1" fill="#fef5eb"/><use href="#c" x="532.3" fill="#fef8f1"/><use href="#c" x="602.5" fill="#fcead7"/><use href="#c" x="637.6" fill="#fdeede"/><use href="#c" x="672.7" fill="#fbe4cc"/><g transform="scale(.85 1)"><g class="lb fir"><text x="261.2">Bin-738</text><text x="311.8">p_Firmicutes</text></g><g class="n"><text x="563.1">6</text><text x="604.4">1</text><text x="645.6">4</text><text x="686.9">0</text><text x="728.2">14</text><text x="769.5">11</text><text x="810.8">19</text><text x="852.1">0</text><text x="893.4">0</text></g></g></g>
<g id="bin-2499" transform="translate(0,811.8)"><use href="#rw"/><use href="#c" x="462.1" fill="#fef8f1"/><use href="#c" x="532.3" fill="#fef7ee"/><use href="#c" x="602.5" fill="#fcecdb"/><use href="#c" x="637.6" fill="#fdefe0"/><use href="#c" x="672.7" fill="#fcead7"/><g transform="scale(.85 1)"><g class="lb fir"><text x="261.2">Bin-2499</text><text x="311.8">s_Epulopiscium_sp_SCG_D08WGA_EpuloA1</text></g><g class="n"><text x="563.1">4</text><text x="604.4">2</text><text x="645.6">5</text><text x="686.9">0</text><text x="728.2">12</text><text x="769.5">10</text><text x="810.8">14</text><text x="852.1">0</text><text x="893.4">0</text></g></g></g>
<g id="bin-1233" transform="translate(0,823.5)"><use href="#rw"/><use href="#c" x="462.1" fill="#fef7ee"/><use href="#c" x="602.5" fill="#fdf2e5"/><use href="#c" x="637.6" fill="#fef5eb"/><use href="#c" x="672.7" fill="#fbe6d0"/><g transform="scale(.85 1)"><g class="lb fir"><text x="261.2">Bin-1233</text><text x="311.8">s_Bacillus_xiamenensis</text></g><g class="n"><text x="563.1">5</text><text x="604.4">0</text><text x="645.6">1</text><text x="686.9">0</text><text x="728.2">8</text><text x="769.5">6</text><text x="810.8">17</text><text x="852.1">0</text><text x="893.4">0</text></g></g></g>
<g id="bin-2407" transform="translate(0,835.2)"><use href="#rw"/><use href="#c" x="602.5" fill="#fefaf4"/><use href="#c" x="672.7" fill="#fdf1e3"/><g transform="scale(.85 1)"><g class="lb fir"><text x="261.2">Bin-2407</text><text x="311.8">p_Firmicutes</text></g><g class="n"><text x="563.1">2</text><text x="604.4">0</text><text x="645.6">1</text><text x="686.9">0</text><text x="728.2">3</text><text x="769.5">2</text><text x="810.8">9</text><text x="852.1">0</text><text x="893.4">0</text></g></g></g>
<g id="bin-1311" transform="translate(0,846.9)"><use href="#rw"/><use href="#c" x="462.1" fill="#fefaf4"/><use href="#c" x="532.3" fill="#fef5eb"/><use href="#c" x="602.5" fill="#fdf2e5"/><use href="#c" x="637.6" fill="#fdefe0"/><use href="#c" x="672.7" fill="#fbe7d2"/><g transform="scale(.85 1)"><g class="lb fir"><text x="261.2">Bin-1311</text><text x="311.8">p_Firmicutes</text></g><g class="n"><text x="563.1">3</text><text x="604.4">0</text><text x="645.6">6</text><text x="686.9">0</text><text x="728.2">8</text><text x="769.5">10</text><text x="810.8">16</text><text x="852.1">0</text><text x="893.4">0</text></g></g></g>
<g id="bin-1441" transform="translate(0,858.6)"><use href="#rw"/><use href="#c" x="602.5" fill="#fefaf4"/><use href="#c" x="672.7" fill="#fef8f1"/><g transform="scale(.85 1)"><g class="lb fir"><text x="261.2">Bin-1441</text><text x="311.8">p_Firmicutes</text></g><g class="n"><text x="563.1">1</text><text x="604.4">0</text><text x="645.6">1</text><text x="686.9">0</text><text x="728.2">3</text><text x="769.5">2</text><text x="810.8">4</text><text x="852.1">0</text><text x="893.4">0</text></g></g></g>
<g id="bin-1682" transform="translate(0,870.3)"><use href="#rw"/><use href="#c" x="602.5" fill="#fef8f1"/><use href="#c" x="637.6" fill="#fefaf4"/><use href="#c" x="672.7" fill="#fef8f1"/><g transform="scale(.85 1)"><g class="lb fir"><text x="261.2">Bin-1682</text><text x="311.8">s_Anaerotignum_neopropionicum</text></g><g class="n"><text x="563.1">1</text><text x="604.4">1</text><text x="645.6">2</text><text x="686.9">0</text><text x="728.2">4</text><text x="769.5">3</text><text x="810.8">4</text><text x="852.1">0</text><text x="893.4">0</text></g></g></g>
<g id="bin-378" transform="translate(0,882)"><use href="#rw"/><use href="#c" x="602.5" fill="#fef5eb"/><use href="#c" x="672.7" fill="#fef7ee"/><g transform="scale(.85 1)"><g class="lb fir"><text x="261.2">Bin-378</text><text x="311.8">s_Ruminococcus_albus</text></g><g class="n"><text x="563.1">1</text><text x="604.4">0</text><text x="645.6">1</text><text x="686.9">0</text><text x="728.2">6</text><text x="769.5">2</text><text x="810.8">5</text><text x="852.1">0</text><text x="893.4">0</text></g></g></g>
<g id="bin-1721" transform="translate(0,893.7)"><use href="#rw"/><use href="#c" x="462.1" fill="#fefaf4"/><use href="#c" x="602.5" fill="#fef7ee"/><use href="#c" x="672.7" fill="#fef8f1"/><g transform="scale(.85 1)"><g class="lb fir"><text x="261.2">Bin-1721</text><text x="311.8">g_Clostridium</text></g><g class="n"><text x="563.1">3</text><text x="604.4">0</text><text x="645.6">1</text><text x="686.9">0</text><text x="728.2">5</text><text x="769.5">2</text><text x="810.8">4</text><text x="852.1">0</text><text x="893.4">0</text></g></g></g>
<g id="bin-1063" transform="translate(0,905.4)"><use href="#rw"/><use href="#c" x="567.4" fill="#fefaf4"/><use href="#c" x="602.5" fill="#fbe7d2"/><use href="#c" x="672.7" fill="#fce9d5"/><g transform="scale(.85 1)"><g class="lb fir"><text x="261.2">Bin-1063</text><text x="311.8">g_Bacillus</text></g><g class="n"><text x="563.1">2</text><text x="604.4">1</text><text x="645.6">1</text><text x="686.9">3</text><text x="728.2">16</text><text x="769.5">1</text><text x="810.8">15</text><text x="852.1">2</text><text x="893.4">0</text></g></g></g>
<g id="bin-706" transform="translate(0,917.1)"><use href="#rw"/><use href="#c" x="532.3" fill="#fcecdb"/><use href="#c" x="602.5" fill="#fef8f1"/><use href="#c" x="637.6" fill="#fefaf4"/><use href="#c" x="672.7" fill="#fcebd9"/><g transform="scale(.85 1)"><g class="lb fir"><text x="261.2">Bin-706</text><text x="311.8">s_Enterococcus_sp_9E7_DIV0242</text></g><g class="n"><text x="563.1">1</text><text x="604.4">0</text><text x="645.6">12</text><text x="686.9">0</text><text x="728.2">4</text><text x="769.5">3</text><text x="810.8">13</text><text x="852.1">0</text><text x="893.4">0</text></g></g></g>
</g>
</svg>
